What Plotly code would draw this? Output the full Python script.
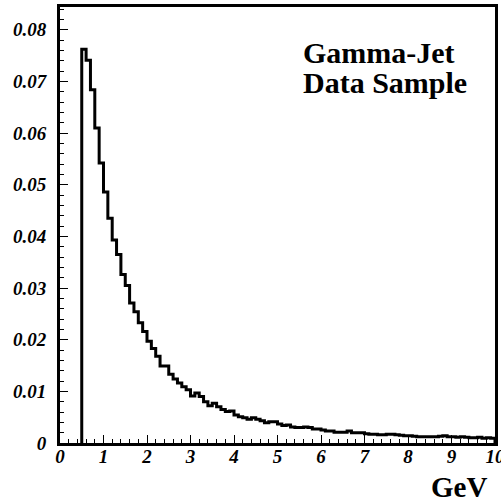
import numpy as np
import plotly.graph_objects as go

# Histogram: bins of 0.1 GeV starting at 0.5 GeV
bin_start = 0.5
bin_width = 0.1
values = [
    0.0762, 0.0741, 0.0684, 0.0610, 0.0542, 0.0486, 0.0435, 0.0393, 0.0365, 0.0326,
    0.0305, 0.0271, 0.0254, 0.0233, 0.0216, 0.0197, 0.0183, 0.0168, 0.0149, 0.0149,
    0.0133, 0.0124, 0.0116, 0.0109, 0.0103, 0.0091, 0.0097, 0.0090, 0.0080, 0.0072,
    0.0077, 0.0070, 0.0065, 0.0061, 0.0062, 0.0054, 0.0051, 0.0049, 0.0046, 0.0049,
    0.0046, 0.0043, 0.0039, 0.0041, 0.0041, 0.0037, 0.0034, 0.0035, 0.0031, 0.0030,
    0.0030, 0.0031, 0.0030, 0.0027, 0.0027, 0.0025, 0.0023, 0.0023, 0.0021, 0.0021,
    0.0021, 0.0023, 0.0020, 0.0020, 0.0020, 0.0018, 0.0017, 0.0017, 0.0016, 0.0016,
    0.0017, 0.0017, 0.0016, 0.0015, 0.0014, 0.0014, 0.0013, 0.0012, 0.0012, 0.0012,
    0.0012, 0.0012, 0.0013, 0.0014, 0.0012, 0.0012, 0.0011, 0.0012, 0.0011, 0.0010,
    0.0010, 0.0011, 0.0009, 0.0010, 0.0009,
]

x_ticks = [0, 1, 2, 3, 4, 5, 6, 7, 8, 9, 10]
x_ticktext = ["0", "1", "2", "3", "4", "5", "6", "7", "8", "9", "10"]
y_ticks = [0, 0.01, 0.02, 0.03, 0.04, 0.05, 0.06, 0.07, 0.08]
y_ticktext = ["0", "0.01", "0.02", "0.03", "0.04", "0.05", "0.06", "0.07", "0.08"]

edges = bin_start + bin_width * np.arange(len(values) + 1)
xs = [edges[0]] + list(edges) + [edges[-1]]
ys = [0] + list(values) + [values[-1], 0]

SERIF = "Liberation Serif"
tickfont = dict(family=SERIF, size=19, color="black", weight="bold", style="italic")

fig = go.Figure()
fig.add_trace(go.Scatter(x=xs, y=ys, mode="lines", line=dict(shape="hv", color="black", width=3),
                         hoverinfo="skip", showlegend=False))

fig.update_layout(
    width=501, height=503,
    margin=dict(l=60, r=6, t=7, b=60),
    paper_bgcolor="white", plot_bgcolor="white",
    showlegend=False,
    xaxis=dict(range=[0, 10], showgrid=False, zeroline=False, automargin=False,
               ticklabeloverflow="allow",
               showline=True, linecolor="black", linewidth=3, mirror=True,
               ticks="inside", ticklen=8, tickwidth=1, tickcolor="black",
               tickvals=x_ticks, ticktext=x_ticktext, tickfont=tickfont,
               ticklabelstandoff=-6,
               minor=dict(ticks="inside", ticklen=4, tickwidth=1, tickcolor="black", dtick=0.2, showgrid=False)),
    yaxis=dict(range=[0, 0.0844], showgrid=False, zeroline=False, automargin=False,
               showline=True, linecolor="black", linewidth=3, mirror=True,
               ticks="inside", ticklen=8, tickwidth=1, tickcolor="black",
               tickvals=y_ticks, ticktext=y_ticktext, tickfont=tickfont,
               ticklabelstandoff=7,
               minor=dict(ticks="inside", ticklen=4, tickwidth=1, tickcolor="black", dtick=0.002, showgrid=False)),
    annotations=[
        dict(text="Gamma-Jet", x=0.553, y=0.895, xref="paper", yref="paper", xanchor="left", yanchor="middle",
             showarrow=False, font=dict(family=SERIF, size=30, color="black", weight="bold")),
        dict(text="Data Sample", x=0.553, y=0.826, xref="paper", yref="paper", xanchor="left", yanchor="middle",
             showarrow=False, font=dict(family=SERIF, size=30, color="black", weight="bold")),
        dict(text="GeV", x=0.918, y=-0.102, xref="paper", yref="paper", xanchor="center", yanchor="middle",
             showarrow=False, font=dict(family=SERIF, size=29, color="black", weight="bold")),
    ],
)

fig.write_html("out.html")
